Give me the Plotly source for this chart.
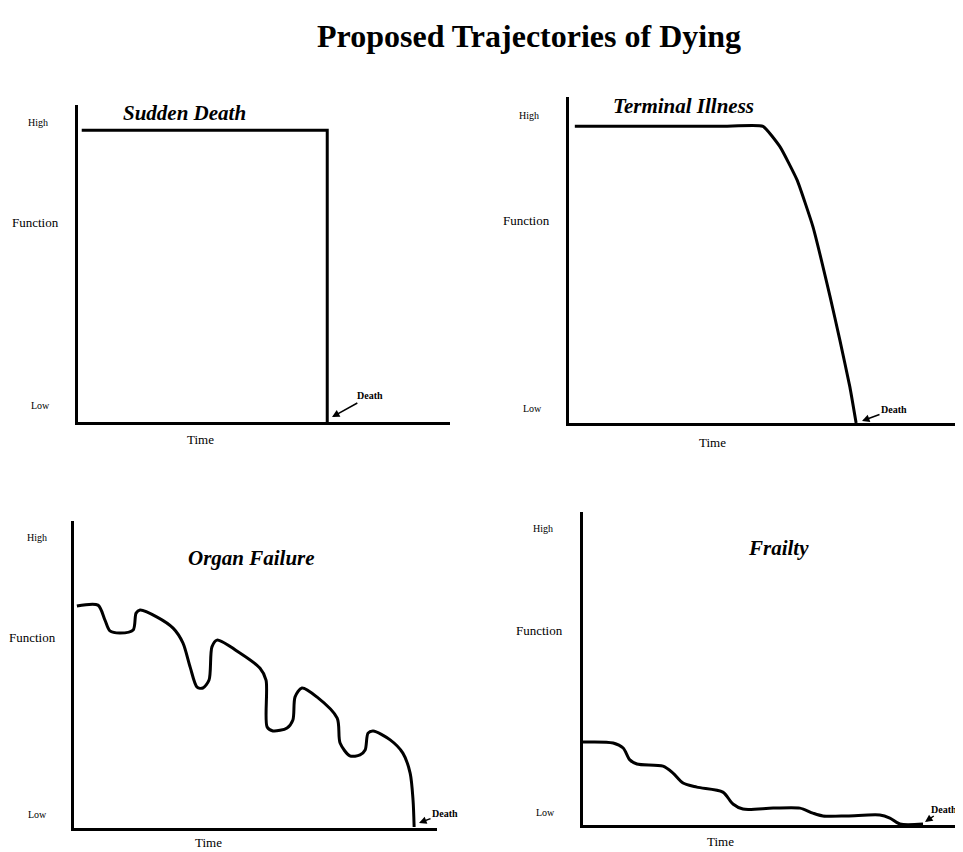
import plotly.graph_objects as go

# the page body has an 8px margin, so the figure is sized to fill the rest of the window
OFF = 8
W, H = 963 - OFF, 852 - OFF

# ---------------- data (time 0-100 along each x-axis, function 0-100 up each y-axis)
sudden_time = [1, 67, 67]
sudden_func = [92, 92, 0]

terminal_time = [1.5, 20, 40, 50, 54.4, 58.8, 62.9, 67.3, 69.8, 72.4, 74.0]
terminal_func = [91, 91, 91, 91, 84.7, 74.5, 60.1, 38.7, 25.5, 11.0, 0]

organ_time = [0.8, 6.6, 8.5, 9.9, 12.7, 16.3, 17.1, 18.2, 22.9, 27.3, 30.0, 32.0, 33.9,
              35.5, 37.2, 38.0, 39.4, 45.7, 51.2, 52.9, 53.2, 54.8, 58.7, 60.3, 60.9,
              62.8, 66.9, 72.5, 73.3, 76.0, 78.8, 80.2, 81.0, 82.4, 87.1, 90.6, 92.6,
              93.4, 93.7]
organ_func = [72.3, 72.6, 67.8, 64.2, 63.5, 64.5, 70.0, 71.0, 68.7, 65.1, 60.3, 52.4, 45.9,
              45.6, 48.2, 59.0, 61.2, 57.0, 52.1, 48.2, 32.9, 31.6, 32.6, 35.2, 42.7,
              45.6, 42.7, 35.8, 27.7, 23.5, 23.8, 25.4, 30.9, 31.6, 28.7, 24.4, 17.9,
              9.1, 0.3]

frailty_time = [0, 8.1, 10.8, 12.6, 14.5, 21.5, 24.2, 26.9, 30.6, 37.6, 40.3, 43.0, 51.1,
                58.3, 61.8, 64.5, 71.0, 79.8, 82.5, 85.2, 91.4]
frailty_func = [26.5, 26.2, 24.6, 20.8, 19.5, 18.8, 16.6, 13.4, 12.1, 10.5, 6.7, 5.1, 5.4,
                5.4, 3.8, 2.9, 2.9, 3.2, 2.2, 0.3, 0.3]

panel_titles = ["Sudden Death", "Terminal Illness", "Organ Failure", "Frailty"]
main_title = "Proposed Trajectories of Dying"
y_labels = ["High", "Function", "Low"]
x_label = "Time"
death_label = "Death"

# ---------------- layout helpers (window pixel -> paper)
def px(x):
    return (x - OFF) / W

def py(y):
    return 1 - (y - OFF) / H

SERIF = "Liberation Serif, Times New Roman, serif"

# panel boxes in window pixels: (x0, x1, ytop, ybottom)
boxes = [(78, 450, 105, 422), (569, 957, 97, 423), (74, 437, 521, 828), (583, 955, 512, 825)]

fig = go.Figure()
series = [(sudden_time, sudden_func, "linear", 0),
          (terminal_time, terminal_func, "spline", 0.4),
          (organ_time, organ_func, "spline", 0.8),
          (frailty_time, frailty_func, "spline", 0.8)]

layout_axes = {}
for i, ((t, f, shape, sm), (x0, x1, yt, yb)) in enumerate(zip(series, boxes), start=1):
    xa = "x" if i == 1 else f"x{i}"
    ya = "y" if i == 1 else f"y{i}"
    line = dict(color="black", width=3, shape=shape)
    if shape == "spline":
        line["smoothing"] = sm
    fig.add_trace(go.Scatter(x=t, y=f, mode="lines", line=line, xaxis=xa, yaxis=ya,
                             showlegend=False, hoverinfo="skip"))
    common = dict(showgrid=False, zeroline=False, showticklabels=False, ticks="",
                  showline=True, linecolor="black", linewidth=3, range=[0, 100], fixedrange=True)
    layout_axes["xaxis" if i == 1 else f"xaxis{i}"] = dict(domain=[px(x0), px(x1)], anchor=ya, **common)
    layout_axes["yaxis" if i == 1 else f"yaxis{i}"] = dict(domain=[py(yb), py(yt)], anchor=xa, **common)

fig.update_layout(**layout_axes)

def text_ann(x, y, text, size, **kw):
    return dict(x=px(x), y=py(y), xref="paper", yref="paper", text=text, showarrow=False,
                xanchor="center", yanchor="middle",
                font=dict(family=SERIF, size=size, color="black"), **kw)

ann = []
# main title
ann.append(text_ann(529, 36, f"<b>{main_title}</b>", 32))

# panel titles
title_pos = [(184, 113), (683, 106), (251, 558), (778, 548)]
for txt, (x, y) in zip(panel_titles, title_pos):
    ann.append(text_ann(x, y, f"<b><i>{txt}</i></b>", 21))

# y labels: High, Function, Low
ylab_pos = [
    [(38, 122), (35, 222), (40, 405)],
    [(529, 115), (526, 220), (532, 408)],
    [(37, 537), (32, 637), (37, 814)],
    [(543, 528), (539, 630), (545, 812)],
]
for pos in ylab_pos:
    for txt, (x, y) in zip(y_labels, pos):
        size = 13 if txt == "Function" else 10
        ann.append(text_ann(x, y, txt, size))

# x labels
for (x, y) in [(200, 440), (712, 443), (208, 842), (720, 841)]:
    ann.append(text_ann(x, y, x_label, 13))

# death arrows: (head x, head y, text center x, text center y)
death = [(332, 417, 370, 396), (862, 421, 894, 409), (419, 823, 445, 813), (925, 822, 944, 809)]
for hx, hy, tx, ty in death:
    ann.append(dict(x=px(hx), y=py(hy), xref="paper", yref="paper", text=f"<b>{death_label}</b>",
                    showarrow=True, ax=tx - hx, ay=ty - hy, axref="pixel", ayref="pixel",
                    arrowhead=2, arrowsize=1, arrowwidth=1.5, arrowcolor="black", standoff=0,
                    font=dict(family=SERIF, size=10, color="black")))

fig.update_layout(width=W, height=H, margin=dict(l=0, r=0, t=0, b=0, pad=0),
                  paper_bgcolor="white", plot_bgcolor="white", annotations=ann)

fig.write_html("out.html")
